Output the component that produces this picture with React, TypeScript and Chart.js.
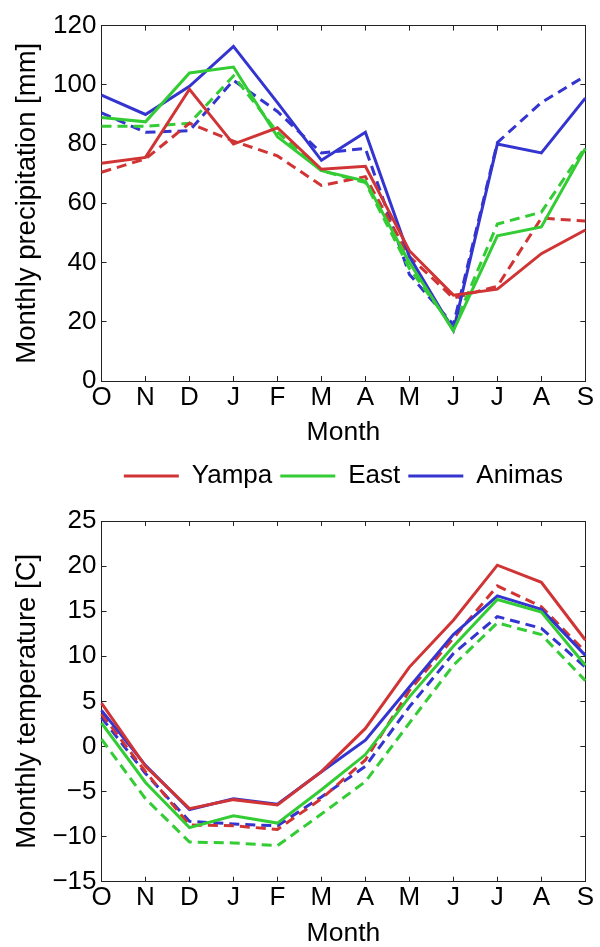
import { useEffect, useRef } from 'react';
import { Chart, registerables } from 'chart.js';

Chart.register(...registerables);

// Water-year months, October through September
const months = ['O', 'N', 'D', 'J', 'F', 'M', 'A', 'M', 'J', 'J', 'A', 'S'];

// Monthly precipitation [mm]; solid and dashed series per basin
const precipYampa = [73.5, 75.5, 98.5, 80, 85.5, 71.5, 72.5, 44, 29, 31, 43, 51];
const precipYampaDashed = [70.5, 75, 87, 81, 76, 66, 69, 42, 28, 32, 55, 54];
const precipEast = [89, 87.5, 104, 106, 82.5, 71, 67.5, 40, 17, 49, 52, 78.5];
const precipEastDashed = [86, 86, 87, 103, 84, 71, 67, 38, 18, 53, 57, 79];
const precipAnimas = [96.5, 90, 99.5, 113, 94, 74.5, 84, 42, 17, 80, 77, 95.5];
const precipAnimasDashed = [90.5, 84, 84.5, 101.5, 91, 77, 78.5, 36, 19, 80.5, 94, 103];

// Monthly temperature [C]
const tempYampa = [4.8, -2.2, -6.9, -5.9, -6.5, -2.8, 2.0, 8.8, 14, 20.1, 18.2, 11.8];
const tempYampaDashed = [3.6, -2.8, -8.7, -8.8, -9.2, -5.8, -1.5, 6.2, 12, 17.8, 15.5, 10.5];
const tempEast = [2.6, -4.0, -9.0, -7.7, -8.5, -4.8, -0.9, 5.5, 11.1, 16.3, 14.9, 9.0];
const tempEastDashed = [0.8, -5.8, -10.6, -10.7, -11.0, -7.5, -3.9, 2.6, 9.0, 13.7, 12.4, 7.3];
const tempAnimas = [4.0, -2.1, -7.0, -5.8, -6.4, -2.8, 0.7, 6.6, 12.4, 16.7, 15.2, 10.1];
const tempAnimasDashed = [3.2, -3.0, -8.3, -8.6, -8.8, -5.6, -2.2, 4.4, 10.3, 14.4, 13.1, 8.8];

const basinNames = ['Yampa', 'East', 'Animas'];
const basinColors = ['rgb(208, 52, 52)', 'rgb(52, 204, 52)', 'rgb(52, 52, 208)'];

const precipTicks = { min: 0, max: 120, step: 20 };
const tempTicks = { min: -15, max: 25, step: 5 };

const FONT = "'Liberation Sans', Arial, Helvetica, sans-serif";
const AXIS = '#222';
const TEXT = '#000';
const DASH = [10, 6];

function buildDatasets(solid: number[][], dashed: number[][]) {
  const sets: any[] = [];
  solid.forEach((data, i) => {
    sets.push({
      label: basinNames[i],
      data,
      borderColor: basinColors[i],
      backgroundColor: basinColors[i],
      borderWidth: 3,
      pointRadius: 0,
      tension: 0,
    });
  });
  dashed.forEach((data, i) => {
    sets.push({
      label: basinNames[i] + ' (dashed)',
      data,
      borderColor: basinColors[i],
      backgroundColor: basinColors[i],
      borderWidth: 3,
      borderDash: DASH,
      pointRadius: 0,
      tension: 0,
    });
  });
  return sets;
}

const fmt = (v: number) => (v < 0 ? '\u2212' + Math.abs(v) : String(v));

function buildScales(
  range: { min: number; max: number; step: number },
  yTitle: string,
  xHeight: number,
  topHeight: number,
  monthPadBottom: number,
) {
  const grid = { drawOnChartArea: false, tickLength: -5, color: AXIS, lineWidth: 1 };
  const border = { display: true, color: AXIS, width: 1 };
  return {
    x: {
      type: 'category',
      position: 'bottom',
      offset: false,
      grid,
      border,
      ticks: {
        font: { family: FONT, size: 26 },
        color: TEXT,
        padding: 6,
        maxRotation: 0,
        autoSkip: false,
      },
      title: {
        display: true,
        text: 'Month',
        color: TEXT,
        font: { family: FONT, size: 26.5, lineHeight: 1 },
        padding: { top: 0, bottom: monthPadBottom },
      },
      afterFit: (s: any) => {
        s.height = xHeight;
      },
    },
    x2: {
      type: 'category',
      position: 'top',
      offset: false,
      grid,
      border,
      ticks: { display: false },
      afterFit: (s: any) => {
        s.height = topHeight;
      },
    },
    y: {
      type: 'linear',
      position: 'left',
      min: range.min,
      max: range.max,
      grid,
      border,
      ticks: {
        stepSize: range.step,
        font: { family: FONT, size: 26 },
        color: TEXT,
        padding: 10,
        callback: (v: any) => fmt(Number(v)),
      },
      title: {
        display: true,
        text: yTitle,
        color: TEXT,
        font: { family: FONT, size: 27.5, lineHeight: 1 },
        padding: { top: 14, bottom: 0 },
      },
      afterFit: (s: any) => {
        s.width = 101.5;
      },
    },
    y2: {
      type: 'linear',
      position: 'right',
      min: range.min,
      max: range.max,
      grid,
      border,
      ticks: { display: false, stepSize: range.step },
      afterFit: (s: any) => {
        s.width = 0;
      },
    },
  };
}

function PrecipChart() {
  const ref = useRef<HTMLCanvasElement>(null);
  useEffect(() => {
    if (!ref.current) return;
    const chart = new Chart(ref.current, {
      type: 'line',
      data: {
        labels: months,
        datasets: buildDatasets(
          [precipYampa, precipEast, precipAnimas],
          [precipYampaDashed, precipEastDashed, precipAnimasDashed],
        ),
      },
      options: {
        animation: false,
        responsive: false,
        layout: { padding: { top: 20, right: 12.3, bottom: 0, left: 0 } },
        plugins: { legend: { display: false }, tooltip: { enabled: false } },
        scales: buildScales(precipTicks, 'Monthly precipitation [mm]', 74, 0, 9) as any,
      },
    });
    return () => chart.destroy();
  }, []);
  return (
    <canvas
      ref={ref}
      width={600}
      height={455}
      style={{ position: 'absolute', left: 0, top: 0, display: 'block' }}
    />
  );
}

function TempChart() {
  const ref = useRef<HTMLCanvasElement>(null);
  useEffect(() => {
    if (!ref.current) return;
    const chart = new Chart(ref.current, {
      type: 'line',
      data: {
        labels: months,
        datasets: buildDatasets(
          [tempYampa, tempEast, tempAnimas],
          [tempYampaDashed, tempEastDashed, tempAnimasDashed],
        ),
      },
      options: {
        animation: false,
        responsive: false,
        layout: { padding: { top: 0, right: 12.3, bottom: 0, left: 0 } },
        plugins: {
          tooltip: { enabled: false },
          legend: {
            display: true,
            position: 'top',
            fullSize: false,
            labels: {
              filter: (item: any) => item.datasetIndex < 3,
              usePointStyle: true,
              pointStyle: 'line',
              pointStyleWidth: 55,
              padding: 8,
              color: TEXT,
              font: { family: FONT, size: 26 },
            },
          },
        },
        scales: buildScales(tempTicks, 'Monthly temperature [C]', 65.3, 22, 0) as any,
      },
    });
    return () => chart.destroy();
  }, []);
  return (
    <canvas
      ref={ref}
      width={600}
      height={492}
      style={{ position: 'absolute', left: 0, top: 455, display: 'block' }}
    />
  );
}

export default function App() {
  return (
    <div
      style={{
        position: 'absolute',
        left: 0,
        top: 0,
        width: 600,
        height: 947,
        overflow: 'hidden',
        background: '#fff',
      }}
    >
      <PrecipChart />
      <TempChart />
    </div>
  );
}
